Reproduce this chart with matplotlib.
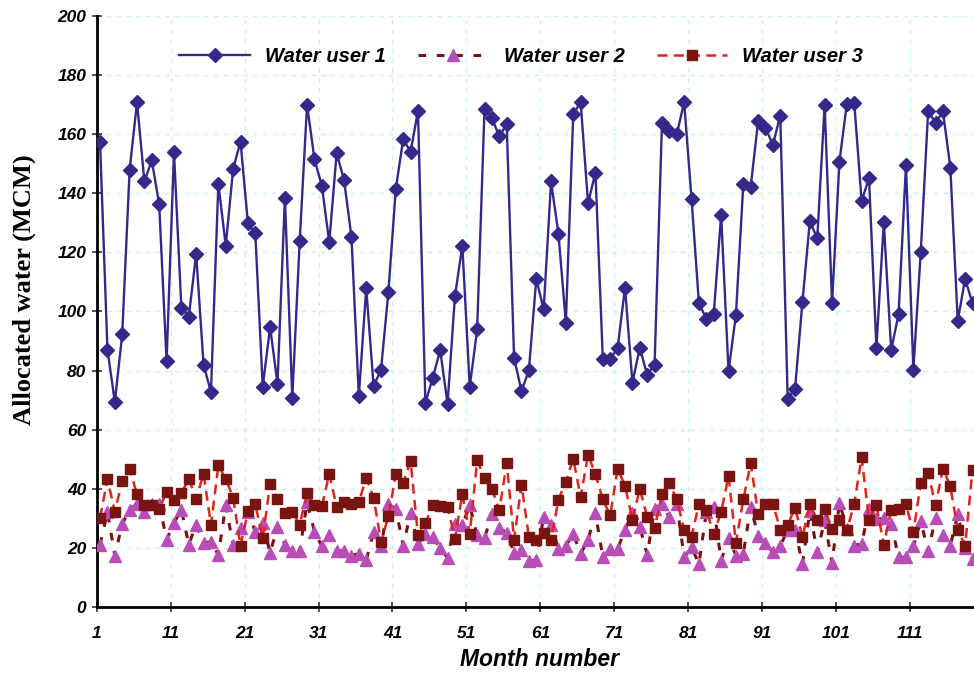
import numpy as np
import matplotlib
matplotlib.use("Agg")
import matplotlib.pyplot as plt

# allocated water per month (MCM)
user1 = [157.2, 87.1, 69.4, 92.3, 147.9, 170.8, 144.0, 151.1, 136.2, 83.2,
         153.8, 101.2, 98.2, 119.5, 82.0, 72.7, 143.2, 122.3, 148.2, 157.5,
         129.8, 126.4, 74.5, 94.7, 75.6, 138.5, 70.8, 123.8, 169.9, 151.5,
         142.5, 123.4, 153.6, 144.5, 125.3, 71.5, 107.8, 74.7, 80.3, 106.7,
         141.4, 158.3, 154.0, 167.9, 69.0, 77.6, 86.9, 68.8, 105.2, 122.3,
         74.5, 93.9, 168.6, 165.4, 159.2, 163.4, 84.3, 73.0, 80.1, 111.0,
         100.7, 144.0, 126.2, 96.2, 166.8, 170.8, 136.6, 147.0, 83.8, 83.8,
         87.7, 108.1, 75.9, 87.7, 78.6, 82.0, 163.7, 161.1, 160.0, 170.8,
         138.1, 102.7, 97.6, 99.1, 132.7, 79.8, 98.8, 143.1, 142.2, 164.3,
         162.0, 156.4, 166.3, 70.5, 73.9, 103.3, 130.6, 124.7, 169.9, 102.7,
         150.7, 170.2, 170.7, 137.4, 145.1, 87.7, 130.1, 86.9, 99.1, 149.6,
         80.3, 120.2, 167.9, 163.7, 167.7, 148.7, 96.8, 111.0, 102.7]

user2 = [21.1, 32.2, 17.4, 28.1, 32.9, 34.9, 32.1, 34.9, 34.9, 22.8,
         28.5, 32.9, 21.1, 27.9, 21.6, 22.1, 17.6, 34.4, 20.9, 26.8,
         32.1, 25.5, 28.4, 18.3, 27.2, 21.1, 18.9, 18.9, 35.4, 25.5,
         20.5, 24.5, 18.9, 19.1, 17.4, 18.0, 15.9, 25.3, 20.5, 34.9,
         33.2, 20.8, 31.8, 21.4, 24.7, 23.6, 19.9, 16.6, 28.1, 27.8,
         34.4, 24.2, 23.4, 31.3, 26.8, 25.1, 18.3, 19.3, 15.7, 15.8,
         30.6, 27.9, 19.7, 20.8, 24.7, 18.0, 22.7, 31.8, 16.8, 19.7,
         19.7, 26.1, 31.8, 27.2, 17.6, 33.2, 34.9, 30.4, 34.9, 16.8,
         20.2, 14.6, 32.1, 33.8, 15.7, 23.4, 17.4, 18.0, 34.0, 24.0,
         21.6, 18.5, 20.8, 25.9, 26.1, 14.6, 32.4, 18.5, 29.3, 14.8,
         35.3, 26.5, 20.8, 21.4, 33.2, 29.8, 30.0, 28.1, 16.8, 16.8,
         20.5, 29.0, 18.8, 30.2, 24.4, 20.8, 31.3, 20.0, 16.3]

user3 = [30.2, 43.2, 32.3, 42.6, 46.6, 38.1, 34.5, 34.5, 33.2, 38.9,
         36.3, 38.5, 43.4, 36.6, 45.1, 27.8, 47.9, 43.4, 37.0, 20.7,
         32.4, 34.7, 23.2, 41.7, 36.6, 31.8, 32.1, 27.9, 38.5, 34.5,
         34.1, 45.1, 33.8, 35.5, 34.9, 35.5, 43.6, 37.0, 22.0, 30.7,
         44.9, 42.0, 49.4, 24.2, 28.4, 34.4, 34.1, 33.8, 23.1, 38.3,
         24.7, 49.6, 43.6, 40.0, 32.7, 48.7, 22.8, 41.4, 23.7, 22.6,
         25.0, 22.7, 36.3, 42.4, 50.2, 37.2, 51.5, 44.9, 36.4, 31.0,
         46.7, 41.1, 29.5, 40.0, 30.6, 26.7, 38.1, 41.9, 36.4, 26.2,
         23.8, 34.9, 32.7, 24.7, 32.1, 44.3, 21.7, 36.4, 48.7, 31.5,
         34.9, 34.9, 26.2, 27.8, 33.6, 23.6, 34.7, 29.3, 33.2, 26.4,
         29.3, 25.9, 34.9, 50.7, 29.6, 34.4, 21.0, 32.9, 33.2, 34.7,
         25.3, 41.9, 45.4, 34.4, 46.8, 40.8, 26.1, 20.8, 46.4]

months = np.arange(1, len(user1) + 1)
tick_months = np.arange(1, 120, 10)

sans = "Liberation Sans"
serif = "Liberation Serif"

fig = plt.figure(figsize=(9.74, 6.74), dpi=100)
ax = fig.add_axes([0.0993, 0.0994, 0.9007, 0.877])

ax.plot(months, user1, color="#34288a", lw=1.7, marker="D", ms=7,
        label="Water user 1", zorder=3)
ax.plot(months, user2, color="#7a1010", lw=2.2, ls=(0, (2.5, 3.5)),
        marker="^", ms=8, mfc="#b84db8", mec="#b84db8",
        label="Water user 2", zorder=3)
ax.plot(months, user3, color="#e0241c", lw=1.8, ls=(0, (4, 2.5)),
        marker="s", ms=7.5, mfc="#7a1410", mec="#7a1410",
        label="Water user 3", zorder=3)

# markers sit a bit to the right of the tick labels in the original
ax.set_xlim(0.55, 119.2)
ax.set_ylim(0, 200)
ax.set_xticks(tick_months - 0.45)
ax.set_xticklabels([str(m) for m in tick_months])
ax.set_yticks(np.arange(0, 201, 20))

for lab in ax.get_xticklabels() + ax.get_yticklabels():
    lab.set_fontfamily(sans)
    lab.set_fontweight("bold")
    lab.set_fontstyle("italic")
    lab.set_fontsize(12.5)

ax.tick_params(direction="inout", length=7, width=1.2, color="#333333", pad=4)
ax.tick_params(axis="x", pad=10)
ax.grid(True, color="#c6f0ee", ls=(0, (3, 4)), lw=1.0)
ax.set_axisbelow(True)

ax.spines["left"].set_linewidth(2)
ax.spines["bottom"].set_linewidth(2)
ax.spines["top"].set_visible(False)
ax.spines["right"].set_visible(False)

ax.set_xlabel("Month number", family=sans, weight="bold", style="italic",
              fontsize=16.5)
ax.xaxis.set_label_coords(0.505, -0.07)
ax.set_ylabel("Allocated water (MCM)", family=serif, weight="bold",
              fontsize=19)
ax.yaxis.set_label_coords(-0.069, 0.536)

ax.legend(loc="center", bbox_to_anchor=(0.484, 0.931), ncol=3,
          frameon=False, handlelength=3.5, handletextpad=0.75,
          columnspacing=1.6,
          prop={"family": sans, "weight": "bold", "style": "italic", "size": 14.5})

fig.savefig("out.png", dpi=100)
